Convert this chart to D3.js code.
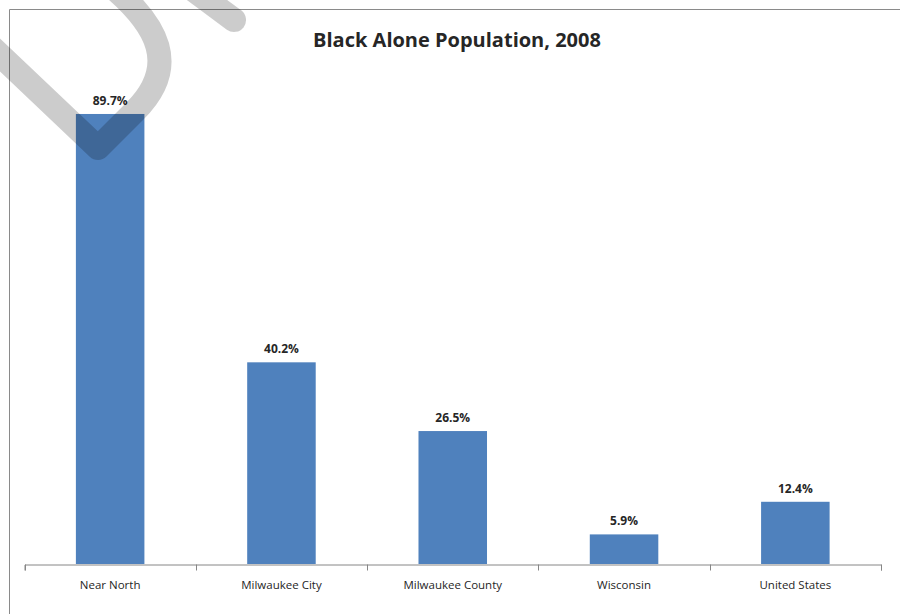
<!DOCTYPE html>
<html><head><meta charset="utf-8">
<script src="https://cdn.jsdelivr.net/npm/d3@7"></script>
<style>html,body{margin:0;padding:0;background:#fff;}svg{display:block;}</style>
</head><body>
<svg id="chart" width="900" height="614"></svg>
<script>
const categories = ["Near North", "Milwaukee City", "Milwaukee County", "Wisconsin", "United States"];
const values = [89.7, 40.2, 26.5, 5.9, 12.4];
const valueLabels = ["89.7%", "40.2%", "26.5%", "5.9%", "12.4%"];
const title = "Black Alone Population, 2008";

const svg = d3.select("#chart");
const font = "'Open Sans', 'DejaVu Sans', sans-serif";

// chart frame
svg.append("path").attr("d", "M9.5,614 L9.5,9.5 L900,9.5")
  .attr("fill", "none").attr("stroke", "#8a8a8a").attr("stroke-width", 1);

const x = d3.scaleBand().domain(categories).range([24.5, 881]).padding(0);
const y = d3.scaleLinear().domain([0, 100]).range([564, 62.3]);
const bw = x.bandwidth() * 0.4;

svg.append("g").selectAll("rect").data(categories).join("rect")
  .attr("x", d => x(d) + (x.bandwidth() - bw) / 2)
  .attr("width", bw)
  .attr("y", (d, i) => y(values[i]))
  .attr("height", (d, i) => y(0) - y(values[i]))
  .attr("fill", "#4f81bd");

// value labels
svg.append("g").selectAll("text").data(categories).join("text")
  .attr("x", d => x(d) + x.bandwidth() / 2)
  .attr("y", (d, i) => y(values[i]) - 9)
  .attr("text-anchor", "middle")
  .attr("font-family", font).attr("font-weight", "bold").attr("font-size", 12)
  .attr("fill", "#262626")
  .text((d, i) => valueLabels[i]);

// x axis
const axis = d3.axisBottom(x).tickSize(6).tickSizeOuter(6).tickFormat("");
const gx = svg.append("g").attr("transform", "translate(0,564.5)").call(axis);
gx.select(".domain").attr("stroke", "#868686");
gx.selectAll(".tick").remove();
const edges = categories.map(c => x(c)).concat([x.range()[1]]);
gx.selectAll("line.edge").data(edges).join("line").attr("class", "edge")
  .attr("x1", d => Math.round(d) + 0.5).attr("x2", d => Math.round(d) + 0.5)
  .attr("y1", 0).attr("y2", 6).attr("stroke", "#868686");
gx.selectAll("text.cat").data(categories).join("text").attr("class", "cat")
  .attr("x", d => x(d) + x.bandwidth() / 2).attr("y", 24.5)
  .attr("text-anchor", "middle")
  .attr("font-family", font).attr("font-size", 11.5).attr("fill", "#262626")
  .text(d => d);

// title
svg.append("text").attr("x", 457).attr("y", 47).attr("text-anchor", "middle")
  .attr("font-family", font).attr("font-weight", "bold").attr("font-size", 20)
  .attr("fill", "#262626").text(title);

// watermark strokes
const wm = svg.append("g").attr("fill", "none").attr("stroke", "rgba(0,0,0,0.2)")
  .attr("stroke-width", 24).attr("stroke-linecap", "round").attr("stroke-linejoin", "round");
wm.append("path").attr("d", "M-60,-2 L98,148 L135,111 C180,66 158,25 110,-15");
wm.append("path").attr("d", "M180,-20 L234,20");
</script>
</body></html>
